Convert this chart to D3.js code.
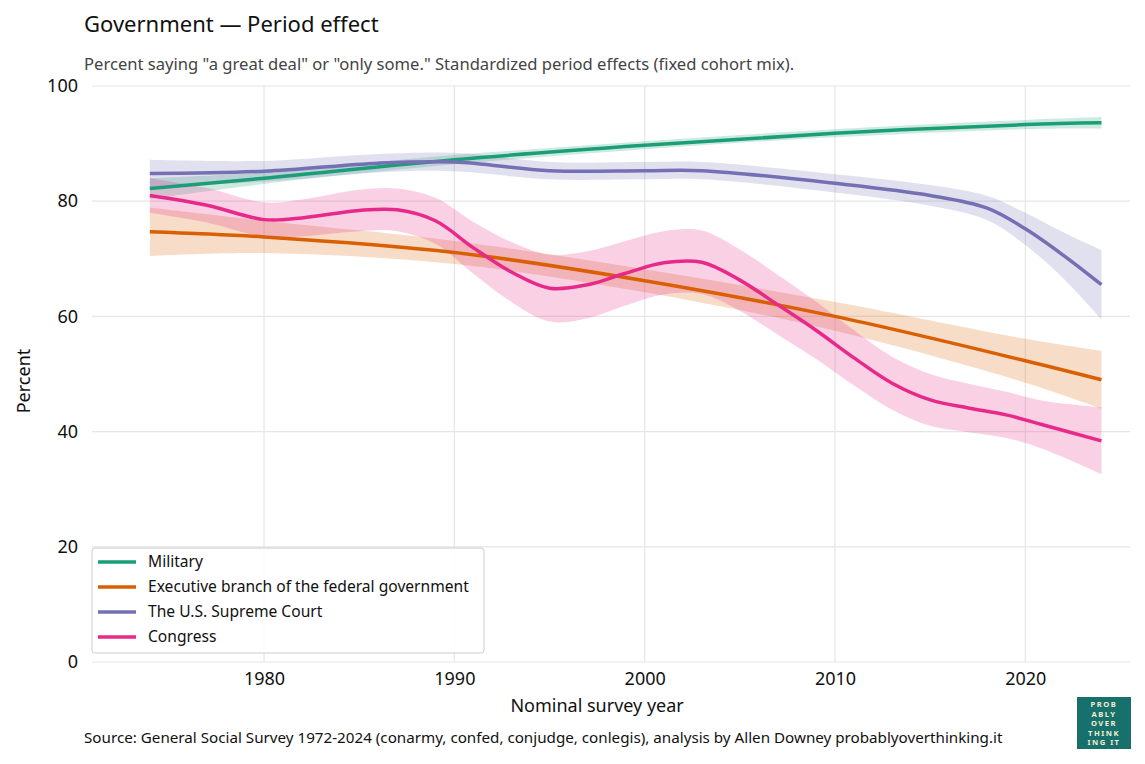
<!DOCTYPE html>
<html>
<head>
<meta charset="utf-8">
<script src="https://d3js.org/d3.v7.min.js"></script>
<style>
body { margin: 0; background: #fff; font-family: "Noto Sans", sans-serif; }
</style>
</head>
<body>
<div id="chart"></div>
<script>
// Values
var names = ["Military", "Executive branch of the federal government", "The U.S. Supreme Court", "Congress"];
var colors = ["#1b9e77", "#d95f02", "#7570b3", "#e7298a"];

var milYears = [1974, 1980, 1990, 2000, 2010, 2020, 2024];
var milVals  = [82.2, 84.0, 87.2, 89.7, 91.8, 93.3, 93.6];
var milErr   = [1.8, 1.0, 0.8, 0.7, 0.7, 0.8, 1.0];

var exeYears = [1974, 1980, 1990, 2000, 2010, 2020, 2024];
var exeVals  = [74.7, 73.8, 71.1, 66.2, 60.0, 52.3, 49.0];
var exeErr   = [4.2, 2.8, 2.0, 2.0, 2.5, 3.8, 5.0];

var scYears = [1974, 1980, 1986, 1990, 1995, 2000, 2003, 2010, 2015, 2018, 2020, 2022, 2024];
var scVals  = [84.8, 85.2, 86.6, 86.8, 85.3, 85.3, 85.3, 83.1, 81.0, 78.8, 75.2, 70.6, 65.5];
var scErr   = [2.4, 1.8, 1.6, 1.6, 1.5, 1.5, 1.5, 1.6, 1.8, 2.1, 2.8, 4.0, 6.0];

var conYears = [1974, 1977, 1980, 1982, 1985, 1987, 1989, 1991, 1993, 1995, 1997, 1999, 2001, 2003, 2005, 2007, 2009, 2011, 2013, 2015, 2017, 2019, 2021, 2024];
var conVals  = [81.0, 79.3, 76.8, 77.1, 78.4, 78.5, 76.6, 71.9, 67.7, 64.9, 65.5, 67.5, 69.3, 69.4, 66.3, 62.0, 57.6, 52.8, 48.4, 45.5, 44.1, 42.9, 41.1, 38.4];
var conErr   = [3.0, 3.0, 3.0, 3.2, 3.6, 3.7, 4.0, 4.5, 5.2, 5.8, 5.8, 5.6, 5.5, 5.5, 5.3, 5.2, 5.0, 4.8, 4.6, 4.5, 4.2, 4.0, 4.2, 5.8];

var yTicks = [0, 20, 40, 60, 80, 100];
var xTicks = [1980, 1990, 2000, 2010, 2020];

var allYears = [milYears, exeYears, scYears, conYears];
var allVals = [milVals, exeVals, scVals, conVals];
var allErr = [milErr, exeErr, scErr, conErr];

var W = 1145, H = 764;
var margin = { top: 86, right: 15, bottom: 102, left: 92 };
var width = W - margin.left - margin.right, height = H - margin.top - margin.bottom;

var svg = d3.select("#chart").append("svg").attr("width", W).attr("height", H);
var g = svg.append("g").attr("transform", "translate(" + margin.left + "," + margin.top + ")");

var x = d3.scaleLinear().domain([1970.96, 2025.5]).range([0, width]);
var y = d3.scaleLinear().domain([0, 100]).range([height, 0]);

// grid
g.selectAll(".hg").data(yTicks).enter().append("line")
  .attr("x1", 0).attr("x2", width).attr("y1", d => y(d)).attr("y2", d => y(d))
  .attr("stroke", "#e6e6e6").attr("stroke-width", 1.2);
g.selectAll(".vg").data(xTicks).enter().append("line")
  .attr("y1", 0).attr("y2", height).attr("x1", d => x(d)).attr("x2", d => x(d))
  .attr("stroke", "#e6e6e6").attr("stroke-width", 1.2);

// axes (text only)
var xa = g.append("g").attr("transform", "translate(0," + height + ")")
  .call(d3.axisBottom(x).tickValues(xTicks).tickFormat(d3.format("d")).tickSize(0).tickPadding(10));
var ya = g.append("g").call(d3.axisLeft(y).tickValues(yTicks).tickSize(0).tickPadding(14));
[xa, ya].forEach(a => {
  a.select(".domain").remove();
  a.selectAll("text").attr("font-size", 18).attr("fill", "#111").attr("font-family", "Noto Sans, sans-serif");
});

var curve = d3.curveCatmullRom.alpha(0.5);
allYears.forEach(function(yrs, i) {
  var pts = yrs.map((yr, j) => ({ yr: yr, v: allVals[i][j], e: allErr[i][j] }));
  g.append("path").datum(pts)
    .attr("d", d3.area().curve(curve).x(d => x(d.yr)).y0(d => y(d.v - d.e)).y1(d => y(d.v + d.e)))
    .attr("fill", colors[i]).attr("fill-opacity", 0.22);
});
allYears.forEach(function(yrs, i) {
  var pts = yrs.map((yr, j) => ({ yr: yr, v: allVals[i][j] }));
  g.append("path").datum(pts)
    .attr("d", d3.line().curve(curve).x(d => x(d.yr)).y(d => y(d.v)))
    .attr("fill", "none").attr("stroke", colors[i]).attr("stroke-width", 3.5);
});

// legend
var lg = svg.append("g").attr("transform", "translate(92,548)");
lg.append("rect").attr("width", 392).attr("height", 105).attr("rx", 3)
  .attr("fill", "#fff").attr("fill-opacity", 0.85).attr("stroke", "#ccc");
names.forEach(function(n, i) {
  var yy = 14 + i * 25;
  lg.append("line").attr("x1", 6).attr("x2", 44).attr("y1", yy).attr("y2", yy)
    .attr("stroke", colors[i]).attr("stroke-width", 3.5);
  lg.append("text").attr("x", 56).attr("y", yy + 5).attr("font-size", 15.6).attr("fill", "#111").text(n);
});

// titles
svg.append("text").attr("x", 84).attr("y", 32).attr("font-size", 22).attr("fill", "#111").text("Government — Period effect");
svg.append("text").attr("x", 84).attr("y", 70).attr("font-size", 16.6).attr("fill", "#444")
  .text('Percent saying "a great deal" or "only some." Standardized period effects (fixed cohort mix).');
svg.append("text").attr("x", margin.left + x(1997.5)).attr("y", 712).attr("text-anchor", "middle")
  .attr("font-size", 18).attr("fill", "#111").text("Nominal survey year");
svg.append("text").attr("transform", "translate(30,381) rotate(-90)").attr("text-anchor", "middle")
  .attr("font-size", 18).attr("fill", "#111").text("Percent");
svg.append("text").attr("x", 84).attr("y", 743).attr("font-size", 15.2).attr("fill", "#111")
  .text("Source: General Social Survey 1972-2024 (conarmy, confed, conjudge, conlegis), analysis by Allen Downey probablyoverthinking.it");

// logo
var logo = svg.append("g").attr("transform", "translate(1077,697)");
logo.append("rect").attr("width", 54).attr("height", 52).attr("fill", "#17706b");
["PROB", "ABLY", "OVER", "THINK", "ING IT"].forEach(function(t, i) {
  logo.append("text").attr("x", 27).attr("y", 10 + i * 9.6).attr("text-anchor", "middle")
    .attr("font-size", 7.6).attr("font-weight", "bold").attr("letter-spacing", 1.5)
    .attr("fill", "#f3efd0").text(t);
});
</script>
</body>
</html>
